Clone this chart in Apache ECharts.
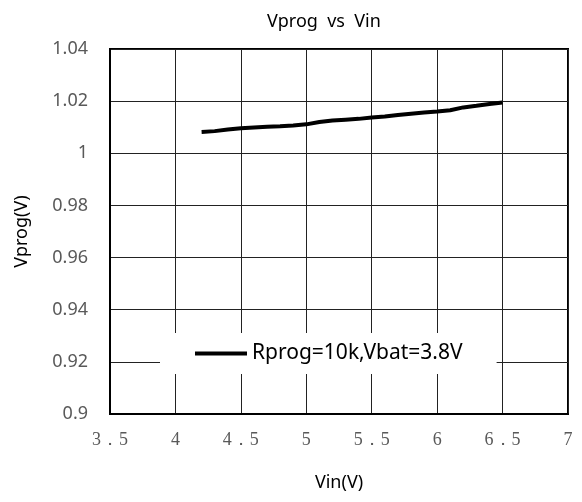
<!DOCTYPE html>
<html>
<head>
<meta charset="utf-8">
<script src="https://cdn.jsdelivr.net/npm/echarts@6/dist/echarts.min.js"></script>
<style>
html, body { margin: 0; padding: 0; background: #fff; }
#main { width: 582px; height: 502px; }
</style>
</head>
<body>
<div id="main"></div>
<script>
var vin = [4.2, 4.3, 4.4, 4.5, 4.6, 4.7, 4.8, 4.9, 5.0, 5.1, 5.2, 5.3, 5.4, 5.5, 5.6, 5.7, 5.8, 5.9, 6.0, 6.1, 6.2, 6.3, 6.4, 6.5];
var vprog = [1.0082, 1.0085, 1.0091, 1.0096, 1.0099, 1.0102, 1.0104, 1.0107, 1.0111, 1.0120, 1.0126, 1.0129, 1.0132, 1.0137, 1.0141, 1.0147, 1.0152, 1.0156, 1.0160, 1.0165, 1.0176, 1.0182, 1.0189, 1.0195];
var seriesName = 'Rprog=10k,Vbat=3.8V';

var myChart = echarts.init(document.getElementById('main'));

var points = [];
for (var i = 0; i < vin.length; i++) {
    points.push([vin[i], vprog[i]]);
}

var sans = '"Noto Sans", "Liberation Sans", sans-serif';

option = {
    animation: false,
    title: {
        text: 'Vprog  vs  Vin',
        left: 319,
        top: 8,
        textAlign: 'center',
        textStyle: { fontFamily: sans, fontSize: 18, fontWeight: 'normal', color: '#000' }
    },
    grid: {
        left: 110, top: 49, right: 14, bottom: 88,
        show: true, borderColor: '#000', borderWidth: 2
    },
    legend: {
        data: [seriesName],
        left: 160,
        top: 333,
        backgroundColor: '#fff',
        padding: [10, 34, 10, 35],
        icon: 'rect',
        itemWidth: 52,
        itemHeight: 4,
        itemGap: 5,
        textStyle: { fontFamily: sans, fontSize: 21, color: '#000' }
    },
    xAxis: {
        type: 'value',
        min: 3.5, max: 7, interval: 0.5,
        name: 'Vin(V)',
        nameLocation: 'middle',
        nameGap: 60,
        nameTextStyle: { fontFamily: sans, fontSize: 18, color: '#000' },
        axisLine: { show: true, lineStyle: { color: '#000', width: 2 } },
        axisTick: { show: false },
        axisLabel: {
            margin: 17,
            fontFamily: '"Liberation Serif", "DejaVu Serif", serif',
            fontSize: 18,
            color: '#595959',
            formatter: function (v) { return String(v).replace('.', '．'); }
        },
        splitLine: { show: true, lineStyle: { color: '#222', width: 1 } }
    },
    yAxis: {
        type: 'value',
        min: 0.9, max: 1.04, interval: 0.02,
        name: 'Vprog(V)',
        nameLocation: 'middle',
        nameGap: 79,
        nameTextStyle: { fontFamily: sans, fontSize: 18, color: '#000' },
        axisLine: { show: true, lineStyle: { color: '#000', width: 2 } },
        axisTick: { show: false },
        axisLabel: {
            margin: 22,
            fontFamily: sans,
            fontSize: 18,
            color: '#595959',
            formatter: function (v) { return String(+v.toFixed(2)); }
        },
        splitLine: { show: true, lineStyle: { color: '#222', width: 1 } }
    },
    series: [
        {
            name: seriesName,
            type: 'line',
            data: points,
            showSymbol: false,
            symbol: 'none',
            z: 3,
            lineStyle: { color: '#000', width: 4 },
            itemStyle: { color: '#000' }
        }
    ]
};

myChart.setOption(option);
</script>
</body>
</html>
